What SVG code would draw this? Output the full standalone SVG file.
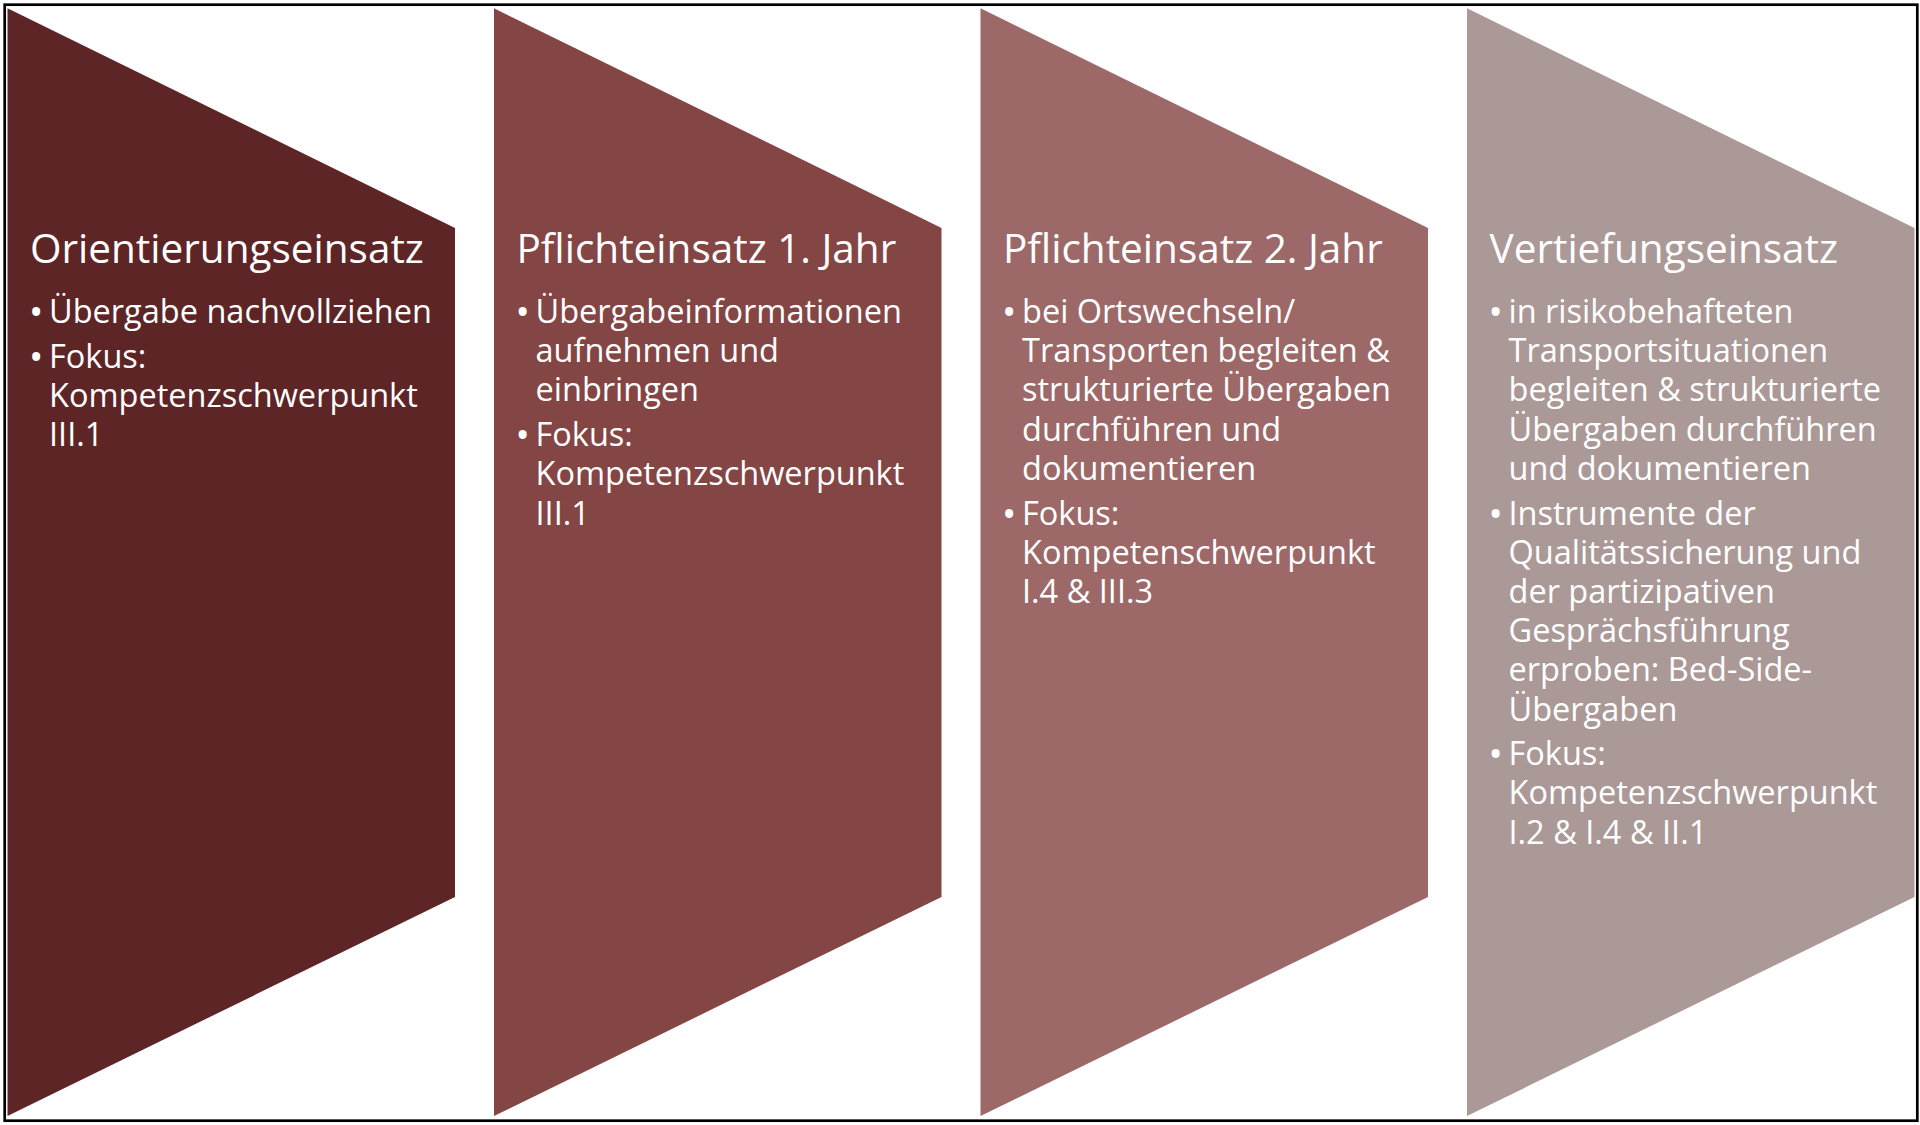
<svg xmlns="http://www.w3.org/2000/svg" width="1920" height="1125" viewBox="0 0 1920 1125">
<style>
.t{font-family:"Open Sans","Noto Sans",sans-serif;font-size:40.5px;fill:#ffffff}
.b{font-family:"Open Sans","Noto Sans",sans-serif;font-size:32.5px;fill:#ffffff}
.d{font-size:38px}
.frame{fill:none;stroke:#000000;stroke-width:2.7}
</style>
<rect x="0" y="0" width="1920" height="1125" fill="#ffffff"/>
<rect class="frame" x="4.7" y="4.7" width="1912.6" height="1116"/>
<g id="connectors"/>
<g id="node1">
<polygon points="7.5,8.3 455,228 455,897 7.5,1116" fill="#5E2526"/>
<text class="t" x="30" y="262.5">Orientierungseinsatz</text>
<text class="b"><tspan class="d" x="29" y="326">•</tspan><tspan x="49" y="323">Übergabe nachvollziehen</tspan></text>
<text class="b"><tspan class="d" x="29" y="370.7">•</tspan><tspan x="49" y="367.7">Fokus:</tspan><tspan x="49" y="406.9">Kompetenzschwerpunkt</tspan><tspan x="49" y="446.1">III.1</tspan></text>
</g>
<g id="node2">
<polygon points="494,8.3 941.5,228 941.5,897 494,1116" fill="#844545"/>
<text class="t" x="516.5" y="262.5">Pflichteinsatz 1. Jahr</text>
<text class="b"><tspan class="d" x="515.5" y="326">•</tspan><tspan x="535.5" y="323">Übergabeinformationen</tspan><tspan x="535.5" y="362.2">aufnehmen und</tspan><tspan x="535.5" y="401.4">einbringen</tspan></text>
<text class="b"><tspan class="d" x="515.5" y="449.1">•</tspan><tspan x="535.5" y="446.1">Fokus:</tspan><tspan x="535.5" y="485.3">Kompetenzschwerpunkt</tspan><tspan x="535.5" y="524.5">III.1</tspan></text>
</g>
<g id="node3">
<polygon points="980.5,8.3 1428,228 1428,897 980.5,1116" fill="#9C6968"/>
<text class="t" x="1003" y="262.5">Pflichteinsatz 2. Jahr</text>
<text class="b"><tspan class="d" x="1002" y="326">•</tspan><tspan x="1022" y="323">bei Ortswechseln/</tspan><tspan x="1022" y="362.2">Transporten begleiten &amp;</tspan><tspan x="1022" y="401.4">strukturierte Übergaben</tspan><tspan x="1022" y="440.6">durchführen und</tspan><tspan x="1022" y="479.8">dokumentieren</tspan></text>
<text class="b"><tspan class="d" x="1002" y="527.5">•</tspan><tspan x="1022" y="524.5">Fokus:</tspan><tspan x="1022" y="563.7">Kompetenschwerpunkt</tspan><tspan x="1022" y="602.9">I.4 &amp; III.3</tspan></text>
</g>
<g id="node4">
<polygon points="1467,8.3 1914.5,228 1914.5,897 1467,1116" fill="#AB9998"/>
<text class="t" x="1489.5" y="262.5">Vertiefungseinsatz</text>
<text class="b"><tspan class="d" x="1488.5" y="326">•</tspan><tspan x="1508.5" y="323">in risikobehafteten</tspan><tspan x="1508.5" y="362.2">Transportsituationen</tspan><tspan x="1508.5" y="401.4">begleiten &amp; strukturierte</tspan><tspan x="1508.5" y="440.6">Übergaben durchführen</tspan><tspan x="1508.5" y="479.8">und dokumentieren</tspan></text>
<text class="b"><tspan class="d" x="1488.5" y="527.5">•</tspan><tspan x="1508.5" y="524.5">Instrumente der</tspan><tspan x="1508.5" y="563.7">Qualitätssicherung und</tspan><tspan x="1508.5" y="602.9">der partizipativen</tspan><tspan x="1508.5" y="642.1">Gesprächsführung</tspan><tspan x="1508.5" y="681.3">erproben: Bed-Side-</tspan><tspan x="1508.5" y="720.5">Übergaben</tspan></text>
<text class="b"><tspan class="d" x="1488.5" y="768.2">•</tspan><tspan x="1508.5" y="765.2">Fokus:</tspan><tspan x="1508.5" y="804.4">Kompetenzschwerpunkt</tspan><tspan x="1508.5" y="843.6">I.2 &amp; I.4 &amp; II.1</tspan></text>
</g>
</svg>
